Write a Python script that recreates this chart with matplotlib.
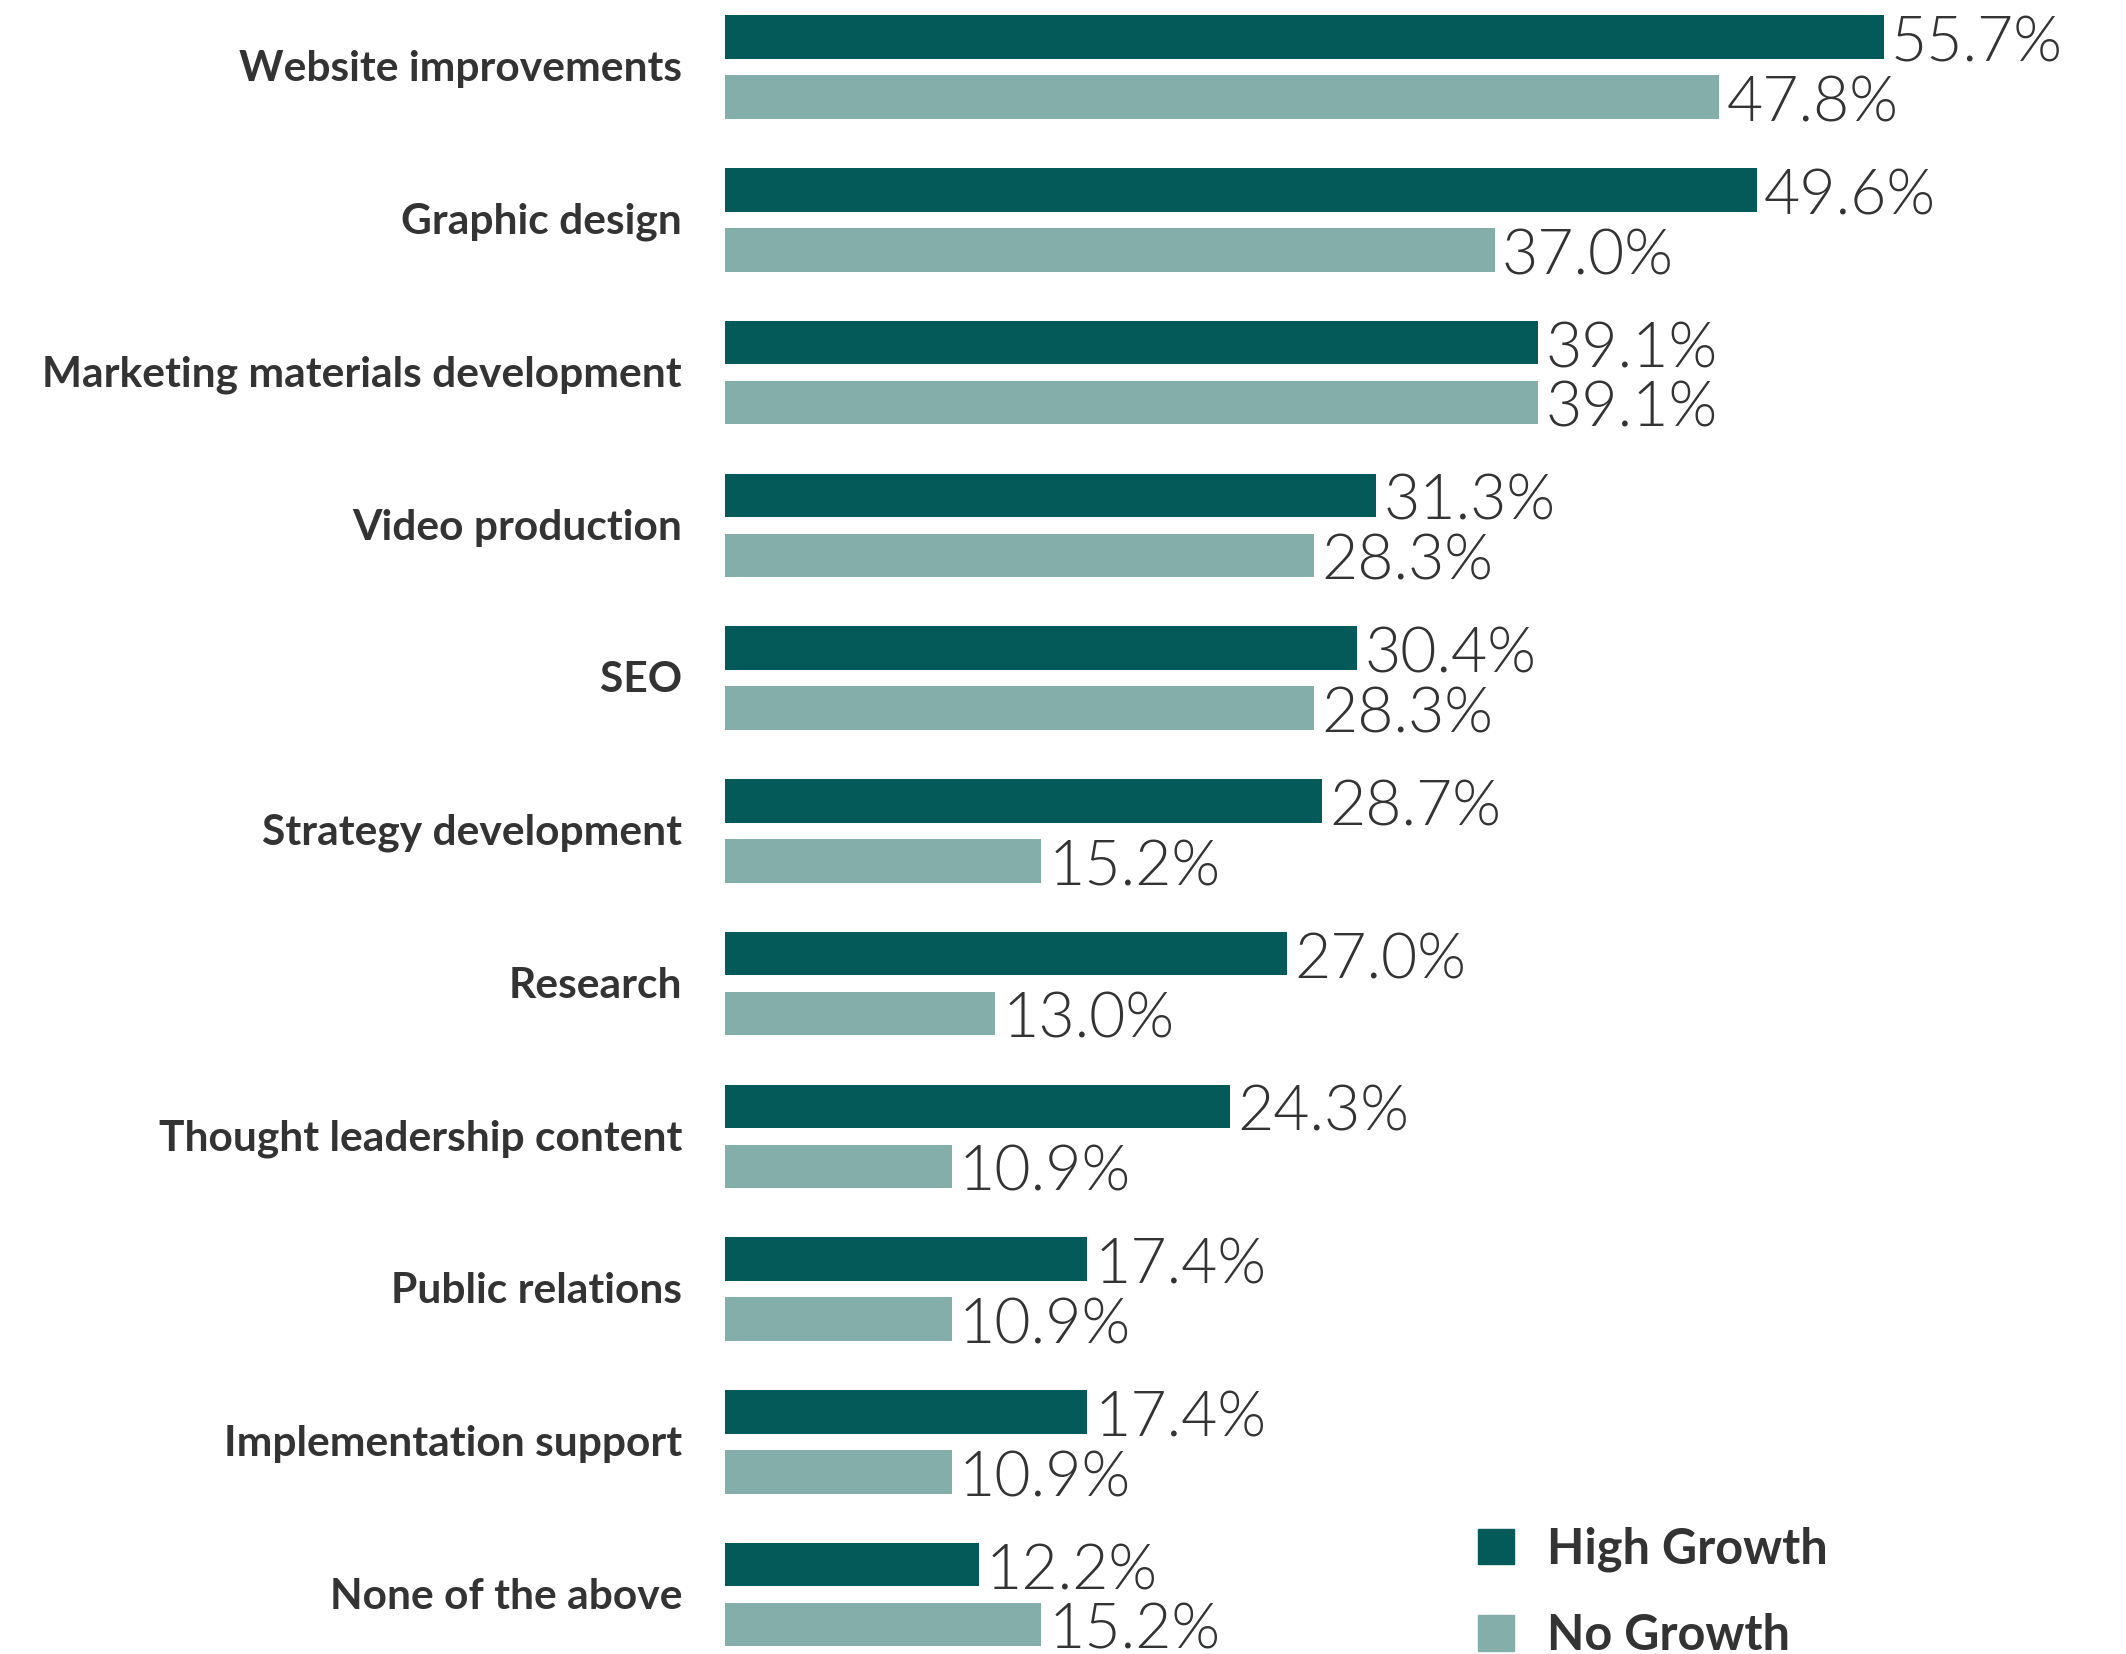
import matplotlib
matplotlib.use("Agg")
import matplotlib.pyplot as plt
from matplotlib.patches import Patch
import numpy as np

categories = [
    "Website improvements",
    "Graphic design",
    "Marketing materials development",
    "Video production",
    "SEO",
    "Strategy development",
    "Research",
    "Thought leadership content",
    "Public relations",
    "Implementation support",
    "None of the above",
]
high_growth = [55.7, 49.6, 39.1, 31.3, 30.4, 28.7, 27.0, 24.3, 17.4, 17.4, 12.2]
no_growth = [47.8, 37.0, 39.1, 28.3, 28.3, 15.2, 13.0, 10.9, 10.9, 10.9, 15.2]

dark = "#045a58"
light = "#84aeaa"
text_col = "#333333"

W, H = 2126, 1654
fig = plt.figure(figsize=(W / 100, H / 100), dpi=100)
# axes spans from the bar origin to the right edge, full height
x0 = 725
ax = fig.add_axes([x0 / W, 0, 1 - x0 / W, 1])
px_per_pct = 20.8
ax.set_xlim(0, (W - x0) / px_per_pct)
pitch = 152.75
ax.set_ylim(10 + (H - 1594.6) / pitch, -67.1 / pitch)
ax.axis("off")

y = np.arange(len(categories))
off = 0.196
bh = 0.285
ax.barh(y - off, high_growth, height=bh, color=dark, label="High Growth")
ax.barh(y + off, no_growth, height=bh, color=light, label="No Growth")

# value labels sit on a baseline just below each bar's centre
val_font = dict(family="Lato", weight=300, size=45, color=text_col)
base = 0.16
for yi, hv, nv in zip(y, high_growth, no_growth):
    ax.text(hv + 0.35, yi - off + base, f"{hv:.1f}%", va="baseline", ha="left", **val_font)
    ax.text(nv + 0.35, yi + off + base, f"{nv:.1f}%", va="baseline", ha="left", **val_font)
    ax.text(-43 / px_per_pct, yi + 0.015, categories[yi], va="center", ha="right",
            family="Lato", weight="bold", size=30.6, color=text_col)

handles = [Patch(color=dark, label="High Growth"), Patch(color=light, label="No Growth")]
leg = fig.legend(handles=handles, loc="lower left", bbox_to_anchor=(1434 / W, -0.029),
                 frameon=False, handlelength=0.75, handleheight=0.75,
                 handletextpad=0.68, labelspacing=0.85,
                 prop=dict(family="Lato", weight="bold", size=35))
for t in leg.get_texts():
    t.set_color(text_col)

fig.savefig("out.png", dpi=100, facecolor="white")
